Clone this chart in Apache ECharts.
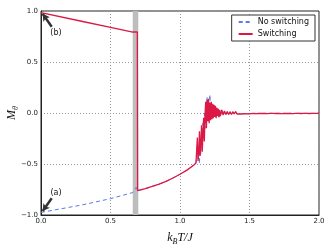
<!DOCTYPE html>
<html>
<head>
<meta charset="utf-8">
<script src="https://cdn.jsdelivr.net/npm/echarts@6/dist/echarts.min.js"></script>
<style>html,body{margin:0;padding:0;background:#fff;}#c{width:332px;height:249px;}</style>
</head>
<body>
<div id="c"></div>
<script>
// ---- data ----
var xTicks = ['0.0', '0.5', '1.0', '1.5', '2.0'];
var yTicks = ['\u22121.0', '\u22120.5', '0.0', '0.5', '1.0'];

// before the transition: switching branch (positive) and no-switching branch (negative)
var tSwitchPre = [0, 0.30, 0.50, 0.66, 0.67, 0.693, 0.695];
var mSwitchPre = [0.983, 0.897, 0.84, 0.794, 0.80, 0.795, -0.762];
var tNoSwitchPre = [0, 0.30, 0.50, 0.66, 0.685, 0.695];
var mNoSwitchPre = [-0.975, -0.90, -0.84, -0.78, -0.73, -0.762];

// shared branch after the transition
var tMid = [0.70, 0.75, 0.80, 0.85, 0.90, 0.95, 1.00, 1.05, 1.10, 1.115];
var mMid = [-0.762, -0.742, -0.72, -0.697, -0.67, -0.637, -0.60, -0.56, -0.51, -0.49];

// fluctuating region
var tFluct = [1.120, 1.125, 1.130, 1.135, 1.140, 1.145, 1.150, 1.155, 1.160, 1.165, 1.170, 1.175, 1.180, 1.185, 1.190, 1.195, 1.200, 1.205, 1.210, 1.215, 1.220, 1.225, 1.230, 1.235, 1.240, 1.245, 1.250, 1.255, 1.260, 1.265, 1.270, 1.275, 1.280, 1.285, 1.290, 1.300, 1.310, 1.320, 1.330, 1.340, 1.350];
var mSwitchFluct = [-0.49, -0.24, -0.47, -0.40, -0.18, -0.42, -0.30, -0.12, -0.38, -0.20, -0.05, -0.28, -0.02, 0.11, -0.15, 0.13, -0.08, 0.14, -0.10, 0.10, -0.07, 0.11, -0.06, 0.09, -0.05, 0.08, -0.04, 0.07, -0.05, 0.05, -0.03, 0.04, -0.04, 0.03, -0.03, 0.03, -0.02, 0.02, -0.015, 0.015, -0.015];
var mNoSwitchFluct = [-0.49, -0.30, -0.45, -0.35, -0.50, -0.25, -0.40, -0.15, -0.30, -0.10, -0.25, 0.00, -0.15, 0.08, -0.05, 0.16, 0.02, 0.12, -0.04, 0.18, 0.00, 0.09, -0.04, 0.06, -0.03, 0.05, -0.04, 0.06, -0.04, 0.05, -0.03, 0.04, -0.04, 0.03, -0.03, 0.03, -0.02, 0.02, -0.015, 0.015, -0.015];

// tail near zero
var tTail = [1.36, 1.37, 1.38, 1.39, 1.40, 1.41, 1.42, 1.43, 1.44, 1.45, 1.46, 1.47, 1.48, 1.49, 1.50, 1.51, 1.52, 1.53, 1.54, 1.55, 1.56, 1.57, 1.58, 1.59, 1.60, 1.61, 1.62, 1.63, 1.64, 1.65, 1.66, 1.67, 1.68, 1.69, 1.70, 1.71, 1.72, 1.73, 1.74, 1.75, 1.76, 1.77, 1.78, 1.79, 1.80, 1.81, 1.82, 1.83, 1.84, 1.85, 1.86, 1.87, 1.88, 1.89, 1.90, 1.91, 1.92, 1.93, 1.94, 1.95, 1.96, 1.97, 1.98, 1.99, 2.00];
var mTail = [0.012, -0.014, 0.012, -0.008, 0.014, -0.01, 0.008, -0.01, 0.006, -0.008, 0.01, -0.006, 0.008, -0.008, 0.004, -0.006, 0.007, -0.004, 0.005, -0.006, 0.004, -0.003, 0.006, -0.005, 0.003, -0.004, 0.005, -0.006, 0.004, -0.003, 0.008, -0.004, 0.003, -0.005, 0.006, -0.003, 0.004, -0.006, 0.005, -0.004, 0.003, -0.005, 0.007, -0.003, 0.004, -0.006, 0.003, -0.004, 0.005, -0.003, 0.004, -0.005, 0.003, -0.004, 0.006, -0.003, 0.004, -0.005, 0.003, -0.004, 0.005, -0.003, 0.002, -0.004, 0.002];

// shaded transition band
var bandRange = [0.66, 0.70];

// annotations: [tailX, tailY, headX, headY], label position
var annotB = [0.077, 0.845, 0.012, 0.972];
var labelB = [0.108, 0.785];
var annotA = [0.077, -0.835, 0.012, -0.962];
var labelA = [0.108, -0.785];

// ---- build ----
function pairs(xs, ys) { return xs.map(function (x, i) { return [x, ys[i]]; }); }
var switchData = pairs(tSwitchPre, mSwitchPre).concat(pairs(tMid, mMid), pairs(tFluct, mSwitchFluct), pairs(tTail, mTail));
var noSwitchData = pairs(tNoSwitchPre, mNoSwitchPre).concat(pairs(tMid, mMid), pairs(tFluct, mNoSwitchFluct), pairs(tTail, mTail));

var RED = '#dc1845';
var BLUE = '#5a7ae6';

var chart = echarts.init(document.getElementById('c'), null, { renderer: 'canvas' });
chart.setOption({
  animation: false,
  backgroundColor: '#fff',
  grid: { left: 41, right: 13, top: 11, bottom: 34, containLabel: false, outerBoundsMode: 'none', show: true, borderColor: '#222', borderWidth: 1, backgroundColor: 'transparent' },
  legend: {
    data: ['No switching', 'Switching'],
    orient: 'vertical', right: 17, top: 15,
    itemWidth: 14, itemHeight: 8, itemGap: 4,
    padding: [3, 6, 3, 6],
    borderColor: '#333', borderWidth: 1, borderRadius: 0, backgroundColor: '#fff',
    itemStyle: { opacity: 0 },
    textStyle: { fontSize: 8, color: '#111', fontFamily: 'DejaVu Sans' }
  },
  xAxis: {
    type: 'value', min: 0, max: 2, interval: 0.5,
    name: '{i|k}{s|B}{i|T/J}', nameLocation: 'middle', nameGap: 15, nameMoveOverlap: false,
    nameTextStyle: {
      rich: {
        i: { fontFamily: 'Liberation Serif', fontStyle: 'italic', fontSize: 12, color: '#111', lineHeight: 14 },
        s: { fontFamily: 'Liberation Serif', fontStyle: 'italic', fontSize: 8, color: '#111', lineHeight: 16, verticalAlign: 'bottom' }
      }
    },
    axisLine: { show: true, onZero: false, lineStyle: { color: '#222', width: 1 } },
    axisTick: { show: false },
    axisLabel: { fontSize: 7, color: '#222', margin: 3, fontFamily: 'DejaVu Sans', formatter: function (v) { return xTicks[Math.round(v / 0.5)]; } },
    splitLine: { show: true, lineStyle: { color: '#999', type: [1, 2], width: 1 } }
  },
  yAxis: {
    type: 'value', min: -1, max: 1, interval: 0.5,
    name: '{i|M}{s|\u03b8}', nameLocation: 'middle', nameGap: 21, nameRotate: 90, nameMoveOverlap: false,
    nameTextStyle: {
      rich: {
        i: { fontFamily: 'Liberation Serif', fontStyle: 'italic', fontSize: 12, color: '#111', lineHeight: 14 },
        s: { fontFamily: 'Liberation Serif', fontStyle: 'italic', fontSize: 8, color: '#111', lineHeight: 16, verticalAlign: 'bottom' }
      }
    },
    axisLine: { show: true, onZero: false, lineStyle: { color: '#222', width: 1 } },
    axisTick: { show: false },
    axisLabel: { fontSize: 7, color: '#222', margin: 3, fontFamily: 'DejaVu Sans', formatter: function (v) { return yTicks[Math.round((v + 1) / 0.5)]; } },
    splitLine: { show: true, lineStyle: { color: '#999', type: [1, 2], width: 1 } }
  },
  series: [
    {
      name: 'No switching', type: 'line', data: noSwitchData, showSymbol: false, symbol: 'none',
      lineStyle: { color: BLUE, width: 1, type: [4, 3] }, itemStyle: { color: BLUE }, z: 2,
      markArea: {
        silent: true,
        itemStyle: { color: '#bdbdbd', opacity: 1 },
        data: [[{ xAxis: bandRange[0] }, { xAxis: bandRange[1] }]]
      }
    },
    {
      name: 'Switching', type: 'line', data: switchData, showSymbol: false, symbol: 'none',
      lineStyle: { color: RED, width: 1.3 }, itemStyle: { color: RED }, z: 3,
      markLine: {
        silent: true, symbol: ['none', 'arrow'], symbolSize: [6, 7],
        lineStyle: { color: '#333', width: 2.5, type: 'solid' },
        label: { show: false },
        data: [
          [{ coord: [annotB[0], annotB[1]] }, { coord: [annotB[2], annotB[3]] }],
          [{ coord: [annotA[0], annotA[1]] }, { coord: [annotA[2], annotA[3]] }]
        ]
      },
      markPoint: {
        silent: true, symbol: 'circle', symbolSize: 0,
        label: { show: true, position: 'inside', fontSize: 8, color: '#111', fontFamily: 'DejaVu Sans', formatter: function (p) { return p.name; } },
        data: [
          { name: '(b)', coord: labelB },
          { name: '(a)', coord: labelA }
        ]
      }
    }
  ]
});
</script>
</body>
</html>
